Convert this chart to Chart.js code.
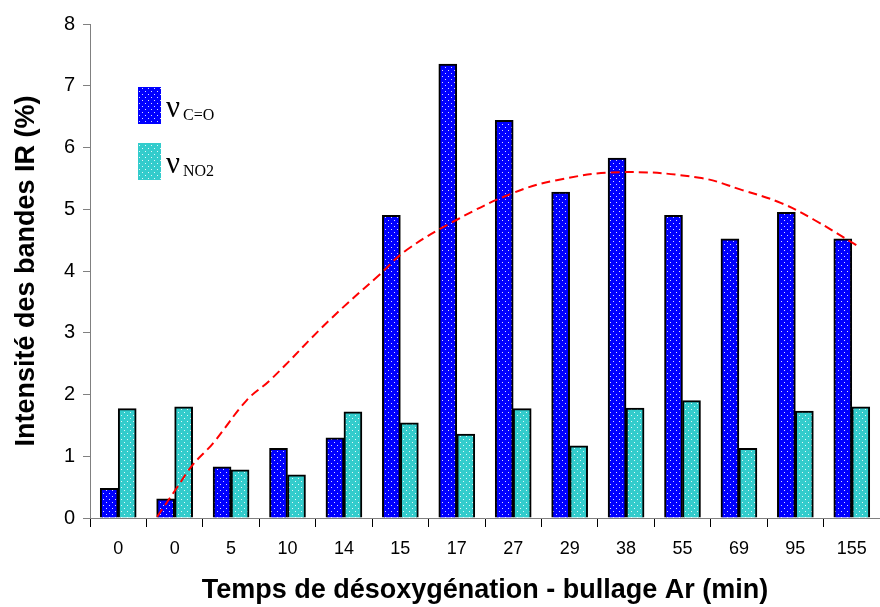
<!DOCTYPE html>
<html>
<head>
<meta charset="utf-8">
<script src="https://cdn.jsdelivr.net/npm/chart.js@4/dist/chart.umd.min.js"></script>
<style>
  html, body { margin: 0; padding: 0; background: #fff; }
  #wrap { width: 880px; height: 607px; }
</style>
</head>
<body>
<div id="wrap"><canvas id="c" width="880" height="607"></canvas></div>
<script>
// categories (time of Ar bubbling, min)
var categories = ['0', '0', '5', '10', '14', '15', '17', '27', '29', '38', '55', '69', '95', '155'];
// band intensities (%)
var vCO = [0.48, 0.31, 0.83, 1.13, 1.30, 4.90, 7.35, 6.44, 5.28, 5.83, 4.90, 4.52, 4.95, 4.52];
var vNO2 = [1.77, 1.80, 0.78, 0.70, 1.72, 1.54, 1.36, 1.77, 1.17, 1.78, 1.90, 1.13, 1.73, 1.80];
// dashed trend curve, x in category units (0..14)
var trendX = [1.19, 1.54, 1.82, 2.18, 2.78, 3.19, 4.25, 5.13, 5.61, 6.50, 7.49, 8.27, 9.38, 10.80, 11.56, 12.25, 12.83, 13.58];
var trendY = [0.02, 0.49, 0.86, 1.21, 1.91, 2.23, 3.21, 3.94, 4.34, 4.83, 5.26, 5.47, 5.60, 5.51, 5.31, 5.10, 4.83, 4.42];
var seriesSub = ['C=O', 'NO2'];
var yTicks = [0, 1, 2, 3, 4, 5, 6, 7, 8];

var FONT = "'Liberation Sans', Arial, sans-serif";

function dotPattern(base) {
  var p = document.createElement('canvas');
  p.width = 6; p.height = 6;
  var g = p.getContext('2d');
  g.fillStyle = base;
  g.fillRect(0, 0, 6, 6);
  g.fillStyle = 'rgba(255,255,255,0.85)';
  g.fillRect(1, 1, 1, 1);
  g.fillRect(4, 4, 1, 1);
  return document.getElementById('c').getContext('2d').createPattern(p, 'repeat');
}
var blueFill = dotPattern('#0000ff');
var tealFill = dotPattern('#33cccc');

var trendData = [];
for (var i = 0; i < trendX.length; i++) trendData.push({ x: trendX[i], y: trendY[i] });

var legendPlugin = {
  id: 'subLegend',
  afterDraw: function (chart) {
    var ctx = chart.ctx;
    var fills = [blueFill, tealFill];
    var tops = [87, 143];
    ctx.save();
    for (var k = 0; k < 2; k++) {
      ctx.fillStyle = fills[k];
      ctx.fillRect(138, tops[k], 23, 37);
      ctx.fillStyle = '#000';
      ctx.textBaseline = 'alphabetic';
      ctx.font = "31px 'Liberation Serif', 'Times New Roman', serif";
      ctx.fillText('\u03bd', 166, tops[k] + 30);
      ctx.font = "16px 'Liberation Serif', 'Times New Roman', serif";
      ctx.fillText(seriesSub[k], 183, tops[k] + 33);
    }
    ctx.restore();
  }
};

new Chart(document.getElementById('c'), {
  type: 'bar',
  data: {
    labels: categories,
    datasets: [
      {
        type: 'line',
        label: 'tendance',
        data: trendData,
        xAxisID: 'x2',
        borderColor: '#ff0000',
        borderWidth: 2,
        borderDash: [9, 5],
        pointRadius: 0,
        tension: 0.4,
        fill: false,
        order: 0
      },
      {
        label: 'C=O',
        data: vCO,
        backgroundColor: blueFill,
        borderColor: '#000',
        borderWidth: 2,
        barThickness: 18,
        order: 1
      },
      {
        label: 'NO2',
        data: vNO2,
        backgroundColor: tealFill,
        borderColor: '#000',
        borderWidth: 2,
        barThickness: 18,
        order: 1
      }
    ]
  },
  options: {
    responsive: false,
    animation: false,
    layout: { padding: { top: 24, right: 0, bottom: 0, left: 0 } },
    plugins: {
      legend: { display: false },
      tooltip: { enabled: false }
    },
    scales: {
      x: {
        type: 'category',
        offset: true,
        grid: {
          offset: true,
          drawOnChartArea: false,
          drawTicks: true,
          tickLength: 9,
          color: '#000'
        },
        border: { color: '#808080', width: 1 },
        ticks: {
          color: '#000',
          padding: 11,
          font: { family: FONT, size: 18 }
        },
        title: {
          display: true,
          text: 'Temps de désoxygénation - bullage Ar (min)',
          color: '#000',
          font: { family: FONT, size: 27, weight: 'bold' },
          padding: { top: 10, bottom: 0 }
        },
        afterFit: function (s) { s.height = 89; }
      },
      x2: {
        type: 'linear',
        display: false,
        offset: false,
        min: 0,
        max: 14
      },
      y: {
        min: 0,
        max: 8,
        afterBuildTicks: function (s) { s.ticks = yTicks.map(function (v) { return { value: v }; }); },
        grid: {
          drawOnChartArea: false,
          drawTicks: true,
          tickLength: 7,
          color: '#808080'
        },
        border: { color: '#808080', width: 1 },
        ticks: {
          color: '#000',
          padding: 8,
          font: { family: FONT, size: 20 }
        },
        title: {
          display: true,
          text: 'Intensité des bandes IR (%)',
          color: '#000',
          font: { family: FONT, size: 27, weight: 'bold' },
          padding: { top: 10, bottom: 0 }
        },
        afterFit: function (s) { s.width = 90; }
      }
    }
  },
  plugins: [legendPlugin]
});
</script>
</body>
</html>
